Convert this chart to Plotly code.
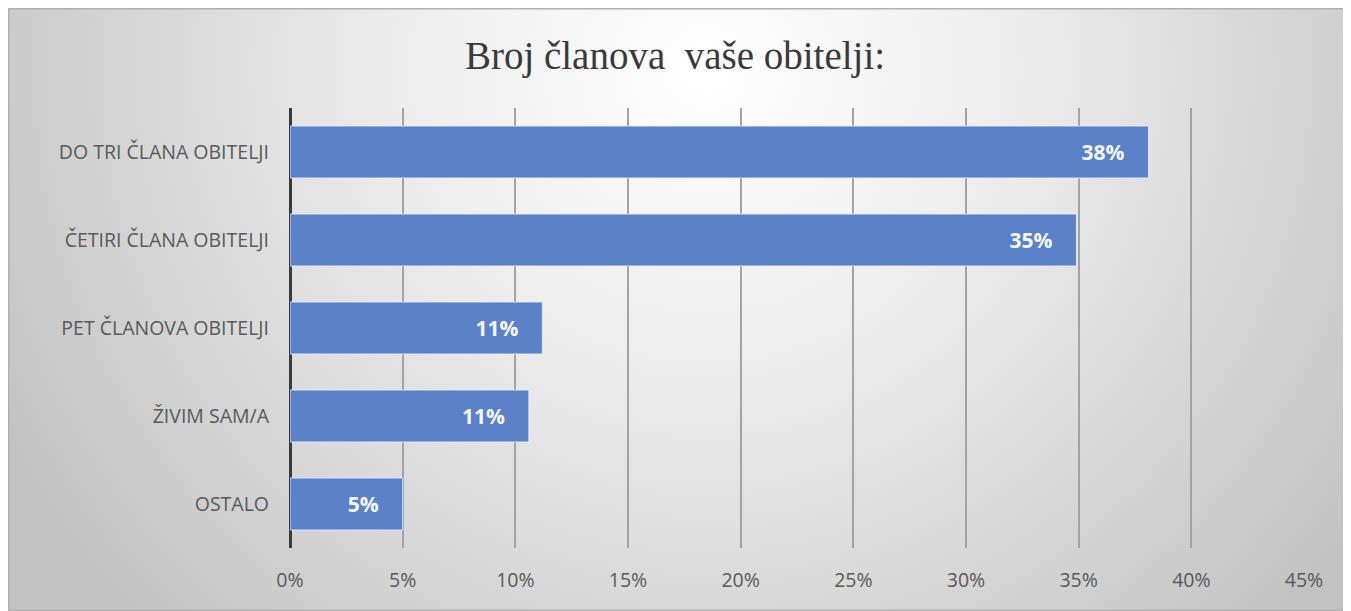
import base64

import plotly.graph_objects as go

# podaci s grafikona
kategorije = ["DO TRI ČLANA OBITELJI", "ČETIRI ČLANA OBITELJI", "PET ČLANOVA OBITELJI", "ŽIVIM SAM/A", "OSTALO"]
postotci = [38.1, 34.9, 11.2, 10.6, 5.0]
oznake = ["38%", "35%", "11%", "11%", "5%"]
x_tickovi = [0, 5, 10, 15, 20, 25, 30, 35, 40, 45]
x_tekst = ["0%", "5%", "10%", "15%", "20%", "25%", "30%", "35%", "40%", "45%"]

# stranica ima 8px margine body-ja, pa je figura manja za toliko
OFF = 8
W, H = 1351 - OFF, 611 - OFF
L, R, T, B = 290 - OFF, 55 - OFF, 108 - OFF, 63
pw, ph = W - L - R, H - T - B

# pozadina: radijalni gradijent + okvir
svg = f"""<svg xmlns='http://www.w3.org/2000/svg' width='{W}' height='{H}' viewBox='0 0 {W} {H}' preserveAspectRatio='none'>
<defs><radialGradient id='g' cx='0.52' cy='0.1' r='0.6' gradientTransform='translate(0.52 0.1) scale(1 2.2) translate(-0.52 -0.1)'>
<stop offset='0' stop-color='#ffffff'/><stop offset='0.4' stop-color='#ececec'/><stop offset='1' stop-color='#c2c2c2'/>
</radialGradient></defs>
<rect x='0' y='0' width='{W}' height='{H}' fill='url(#g)'/>
<rect x='0.5' y='0.5' width='{W-1}' height='{H-1}' fill='none' stroke='#b0b0b0' stroke-width='2'/>
</svg>"""
src = "data:image/svg+xml;base64," + base64.b64encode(svg.encode()).decode()

fig = go.Figure(go.Bar(
    x=postotci,
    y=kategorije,
    orientation="h",
    text=[t + "\u2002\u2002" for t in oznake],
    textposition="inside",
    insidetextanchor="end",
    textfont=dict(family="Open Sans", size=21, color="#f4f7fc", weight="bold"),
    marker=dict(color="#5b81c9", line=dict(color="rgba(235,242,255,0.8)", width=1)),
    width=0.59,
    hoverinfo="skip",
))

fig.update_layout(
    width=W, height=H,
    margin=dict(l=L, r=R, t=T, b=B),
    paper_bgcolor="rgba(0,0,0,0)",
    plot_bgcolor="rgba(0,0,0,0)",
    showlegend=False,
    title=dict(text="Broj članova  vaše obitelji:", x=(675 - OFF) / W, xanchor="center",
               y=1 - (55 - OFF) / H, yanchor="middle",
               font=dict(family="Liberation Serif", size=39, color="#3a3a3a")),
    images=[dict(source=src, xref="paper", yref="paper", x=-L / pw, y=1 + T / ph,
                 sizex=W / pw, sizey=H / ph, xanchor="left", yanchor="top",
                 sizing="stretch", layer="below")],
    xaxis=dict(range=[0, 45], tickvals=x_tickovi, ticktext=x_tekst,
               showgrid=True, gridcolor="#a3a3a3", gridwidth=2,
               zeroline=True, zerolinecolor="#3a3a3a", zerolinewidth=3,
               ticklabelstandoff=18, fixedrange=True,
               tickfont=dict(family="Open Sans", size=19.5, color="#595959")),
    yaxis=dict(autorange="reversed", showgrid=False, ticklabelstandoff=20,
               tickfont=dict(family="Open Sans", size=19.5, color="#595959")),
)

fig.write_html("out.html")
